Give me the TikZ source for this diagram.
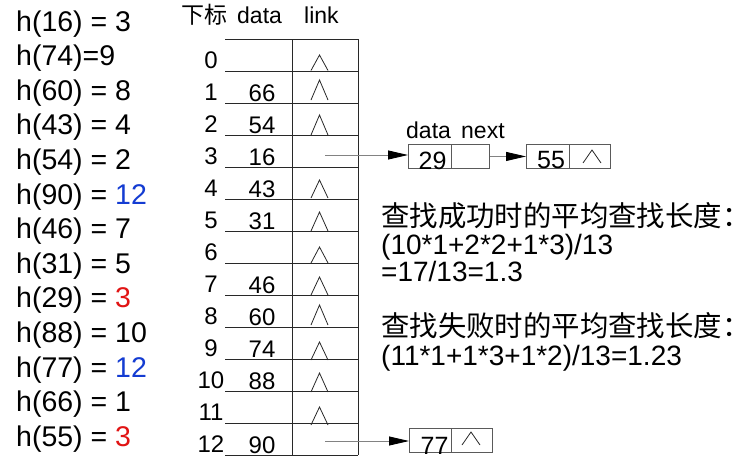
\documentclass[tikz,border=0pt]{standalone}
\usepackage{fontspec}
\setmainfont{Liberation Sans}
\newfontfamily\cjk{Noto Sans CJK SC}
\usetikzlibrary{arrows.meta}
\definecolor{hblue}{RGB}{20,60,210}
\definecolor{hred}{RGB}{225,20,20}
\definecolor{tline}{RGB}{40,40,40}
\definecolor{bline}{RGB}{90,90,90}
\definecolor{aline}{RGB}{130,130,130}
\begin{document}
\begin{tikzpicture}[x=1pt,y=-1pt,
  lbl/.style={inner sep=0pt, font=\fontsize{28.5}{30}\selectfont, anchor=base west},
  tab/.style={inner sep=0pt, font=\fontsize{24}{26}\selectfont, anchor=base},
  hdr/.style={inner sep=0pt, font=\fontsize{23}{25}\selectfont, anchor=base west},
  boxtxt/.style={inner sep=0pt, font=\fontsize{25}{27}\selectfont, anchor=base},
  rt/.style={inner sep=0pt, font=\fontsize{28}{30}\selectfont, anchor=base west},
  rtc/.style={inner sep=0pt, font=\fontsize{28.4}{30}\selectfont\cjk, anchor=base west},
  cell/.style={draw=bline, line width=0.9pt, minimum height=24pt, inner sep=0pt, anchor=north west},
  conn/.style={draw=aline, line width=0.9pt, -{Triangle[length=20pt,width=9pt,color=black]}},
  nul/.style={draw=tline, line width=0.8pt}
]
\fill[white] (0,0) rectangle (752,472);
\useasboundingbox (0,0) rectangle (752,472);

% left hash list
\foreach \i/\t in {0/{h(16) = 3},1/{h(74)=9},2/{h(60) = 8},3/{h(43) = 4},4/{h(54) = 2},
  5/{h(90) = \textcolor{hblue}{12}},6/{h(46) = 7},7/{h(31) = 5},8/{h(29) = \textcolor{hred}{3}},
  9/{h(88) = 10},10/{h(77) = \textcolor{hblue}{12}},11/{h(66) = 1},12/{h(55) = \textcolor{hred}{3}}}
  \node[lbl] (h\i) at (16,{31+34.6*\i}) {\t};

% header
\node[hdr] (hx) at (181,23) {\cjk 下标};
\node[hdr] (hd) at (237,23) {data};
\node[hdr] (hl) at (304,23) {link};

% table
\draw[tline, line width=0.9pt] (225,39) -- (358,39);
\foreach \r in {0,...,12}
  \draw[tline, line width=0.9pt] (225,{71+32*\r}) -- (358,{71+32*\r});
\draw[tline, line width=0.9pt] (292,39) -- (292,455);
\draw[tline, line width=0.9pt] (358,39) -- (358,455);

\foreach \r in {0,...,12}
  \node[tab] (idx\r) at (211,{68.5+32*\r}) {\r};
\foreach \r/\v in {1/66,2/54,3/16,4/43,5/31,7/46,8/60,9/74,10/88,12/90}
  \node[tab] (d\r) at (262,{69+32*\r}) {\v};

\foreach \a/\b in {55/70.5,80/100,115/135,180/198,212/231,247/263,277/295,305/325,342/360,373/392,407/425}
  \draw[nul] (311,\b) -- (319.5,\a) -- (328,\b);

% linked nodes
\node[cell, minimum width=43pt] (c29) at (408,144) {};
\node[cell, minimum width=38pt] (n29) at (451,144) {};
\node[cell, minimum width=43pt] (c55) at (526,144) {};
\node[cell, minimum width=41pt] (n55) at (569,144) {};
\node[cell, minimum width=42pt] (c77) at (409,428) {};
\node[cell, minimum width=41pt] (n77) at (451,428) {};

\node[boxtxt] (t29) at (432.5,169) {29};
\node[boxtxt] (t55) at (551,168) {55};
\node[boxtxt] (t77) at (434.5,454) {77};
\node[hdr] (ldata) at (406,138) {data};
\node[hdr] (lnext) at (461,138) {next};

\draw[nul] (583,163) -- (592,150) -- (601,163);
\draw[nul] (462,445) -- (471,432) -- (480,445);

\coordinate (s3) at (325,155);
\coordinate (s12) at (325,441);
\draw[conn] (s3) -- (s3 -| c29.west);
\draw[conn] (n29.east) -- (c55.west);
\draw[conn] (s12) -- (s12 -| c77.west);

% right text
\node[rtc] (r1) at (381,226) {查找成功时的平均查找长度：};
\node[rt] (r2) at (381,254) {(10*1+2*2+1*3)/13};
\node[rt] (r3) at (381,281) {=17/13=1.3};
\node[rtc] (r4) at (381,336) {查找失败时的平均查找长度：};
\node[rt] (r5) at (381,365) {(11*1+1*3+1*2)/13=1.23};
\end{tikzpicture}
\end{document}
